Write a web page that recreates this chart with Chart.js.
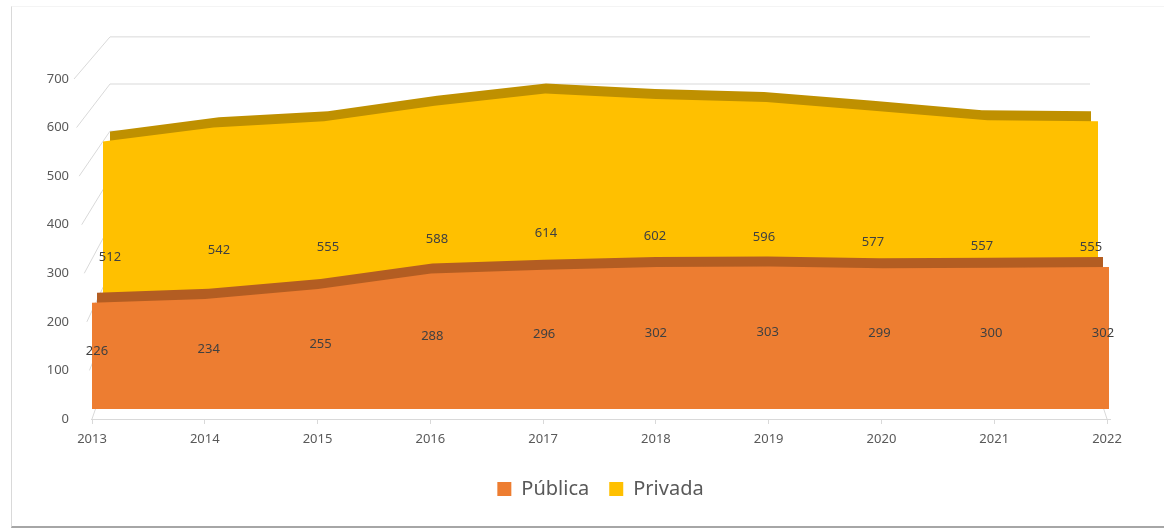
<!DOCTYPE html>
<html>
<head>
<meta charset="utf-8">
<title>Matrícula por dependencia</title>
<script src="https://cdn.jsdelivr.net/npm/chart.js@4.4.1/dist/chart.umd.min.js"></script>
<style>
  html, body { margin: 0; padding: 0; background: #fff; }
  #wrap  { position: relative; width: 1164px; height: 529px; }
  #frame { position: absolute; left: 11px; top: 6px; right: -2px; bottom: 1px;
           border-left: 1px solid #d9d9d9; border-top: 1px solid #f4f4f4; border-bottom: 2px solid #a6a6a6; }
  #chart { position: absolute; left: 0; top: 0; }
</style>
</head>
<body>
<div id="wrap">
  <div id="frame"></div>
  <canvas id="chart" width="1164" height="529"></canvas>
</div>
<script>
// ── Data ─────────────────────────────────────────────────────────────────────
const years   = [2013, 2014, 2015, 2016, 2017, 2018, 2019, 2020, 2021, 2022];
const publica = [226, 234, 255, 288, 296, 302, 303, 299, 300, 302];
const privada = [512, 542, 555, 588, 614, 602, 596, 577, 557, 555];
const yTicks  = [0, 100, 200, 300, 400, 500, 600, 700];

// ── Fake 3D: every depth plane gets its own pair of hidden axes ─────────────
// plot box on the canvas, and where first/last year and 0/700 fall on each plane
const AREA = { left: 91, right: 1110, top: 79, bottom: 418 };
const planes = {
  '':  { x: [92, 1107], y: [418, 79] },   // visible axes (front edge)
  Pf:  { x: [92, 1109], y: [408, 79.7] }, // pública, front face
  Pb:  { x: [97, 1103], y: [398, 69.7] }, // pública, back edge of the top
  Vf:  { x: [103, 1098], y: [382, 53] },  // privada, front face
  Vb:  { x: [110, 1091], y: [372, 43] },  // privada, back edge of the top
  W:   { x: [110, 1090], y: [366, 37] }   // back wall
};

function xRange(p) {
  const v0 = years[0], v1 = years[years.length - 1];
  const b = (p.x[1] - p.x[0]) / (v1 - v0);
  return { min: v0 + (AREA.left - p.x[0]) / b, max: v0 + (AREA.right - p.x[0]) / b };
}
function yRange(p) {
  const v0 = yTicks[0], v1 = yTicks[yTicks.length - 1];
  const b = (p.y[1] - p.y[0]) / (v1 - v0);
  return { min: v0 + (AREA.bottom - p.y[0]) / b, max: v0 + (AREA.top - p.y[0]) / b };
}

const scales = {};
Object.entries(planes).forEach(([k, p]) => {
  if (!k) return;
  scales['x' + k] = { type: 'linear', display: false, ...xRange(p) };
  scales['y' + k] = { type: 'linear', display: false, ...yRange(p) };
});

scales.x = {
  type: 'linear', ...xRange(planes['']),
  grid: { drawOnChartArea: false, color: '#d9d9d9', tickLength: 5 },
  border: { color: '#d9d9d9' },
  ticks: { stepSize: 1, includeBounds: false, autoSkip: false, maxRotation: 0, padding: 7,
           color: '#595959', font: { size: 13 }, callback: v => String(v) },
  afterFit: s => { s.height = 40; }
};
scales.y = {
  type: 'linear', ...yRange(planes['']),
  grid: { display: false, drawTicks: false },
  border: { display: false },
  ticks: { padding: 22, color: '#595959', font: { size: 13 } },
  afterBuildTicks: s => { s.ticks = yTicks.map(v => ({ value: v })); },
  afterFit: s => { s.width = 60; }
};

function area(label, values, color, plane) {
  return {
    label,
    data: years.map((yr, i) => ({ x: yr, y: values[i] })),
    xAxisID: 'x' + plane, yAxisID: 'y' + plane,
    backgroundColor: color, borderColor: 'rgba(0,0,0,0)', borderWidth: 0,
    pointRadius: 0, pointHoverRadius: 0, tension: 0, fill: 'origin', clip: false
  };
}

// ── Left wall + back wall grid, drawn behind the areas ───────────────────────
const wallGrid = {
  id: 'wallGrid',
  beforeDatasetsDraw(chart) {
    const { ctx, scales: s } = chart;
    const first = years[0], last = years[years.length - 1];
    const top = yTicks[yTicks.length - 1];
    const xL = s.xW.getPixelForValue(first), xR = s.xW.getPixelForValue(last);
    ctx.save();
    ctx.strokeStyle = '#d9d9d9';
    ctx.lineWidth = 1;
    yTicks.forEach(v => {
      // front edge of the left wall leans in a little towards the floor
      const xf = s.x.getPixelForValue(first) - 18 * v / top;
      const yb = s.yW.getPixelForValue(v);
      ctx.beginPath();
      ctx.moveTo(xf, s.y.getPixelForValue(v));
      ctx.lineTo(xL, yb);
      ctx.lineTo(xR, yb);
      ctx.stroke();
    });
    // right edge of the floor
    ctx.beginPath();
    ctx.moveTo(s.x.getPixelForValue(last), s.y.getPixelForValue(0));
    ctx.lineTo(xR, s.yW.getPixelForValue(0));
    ctx.stroke();
    ctx.restore();
  }
};

// ── Value labels, halfway up each face ───────────────────────────────────────
const valueLabels = {
  id: 'valueLabels',
  afterDatasetsDraw(chart) {
    const { ctx, scales: s } = chart;
    ctx.save();
    ctx.font = '13px "Noto Sans"';
    ctx.fillStyle = '#404040';
    ctx.textAlign = 'center';
    ctx.textBaseline = 'middle';
    [[publica, 'P'], [privada, 'V']].forEach(([vals, k]) => {
      years.forEach((yr, i) => {
        const half = vals[i] / 2;
        const x = s['x' + k + 'b'].getPixelForValue(yr);
        const y = (s['y' + k + 'f'].getPixelForValue(half) + s['y' + k + 'b'].getPixelForValue(half)) / 2;
        ctx.fillText(String(vals[i]), x, y);
      });
    });
    ctx.restore();
  }
};

Chart.defaults.font.family = '"Noto Sans", sans-serif';

new Chart(document.getElementById('chart'), {
  type: 'line',
  data: {
    // first dataset is painted last, so the front series goes first
    datasets: [
      area('Pública', publica, '#ED7D31', 'Pf'),
      area('', publica, '#B35D22', 'Pb'),
      area('Privada', privada, '#FFC000', 'Vf'),
      area('', privada, '#BF9000', 'Vb')
    ]
  },
  options: {
    responsive: false,
    animation: false,
    events: [],
    layout: { padding: { left: 31, right: 54, top: 79, bottom: 20 } },
    scales,
    plugins: {
      tooltip: { enabled: false },
      legend: {
        position: 'bottom',
        fullSize: false,
        labels: {
          boxWidth: 14, boxHeight: 14, padding: 20,
          color: '#595959', font: { size: 20 },
          filter: item => item.text !== ''
        }
      }
    }
  },
  plugins: [wallGrid, valueLabels]
});
</script>
</body>
</html>
